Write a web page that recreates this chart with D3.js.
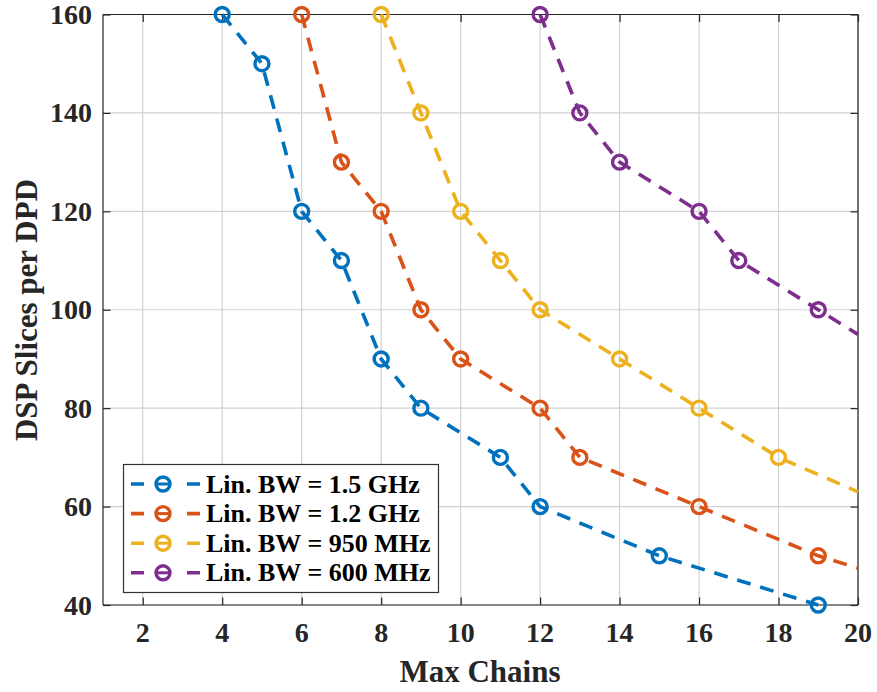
<!DOCTYPE html>
<html>
<head>
<meta charset="utf-8">
<script src="https://cdn.jsdelivr.net/npm/d3@7"></script>
<style>
  html, body { margin: 0; padding: 0; background: #fff; }
  svg { display: block; font-family: "Liberation Serif", "Times New Roman", serif; font-weight: bold; }
</style>
</head>
<body>
<svg id="chart" width="877" height="692"></svg>
<script>
// Series: maximum number of chains vs. DSP slices per DPD
const legendLabels = ["Lin. BW = 1.5 GHz", "Lin. BW = 1.2 GHz", "Lin. BW = 950 MHz", "Lin. BW = 600 MHz"];
const seriesColors = ["#0072BD", "#D95319", "#EDB120", "#7E2F8E"];

const chains15 = [4, 5, 6, 7, 8, 9, 11, 12, 15, 19];
const slices15 = [160, 150, 120, 110, 90, 80, 70, 60, 50, 40];

const chains12 = [6, 7, 8, 9, 10, 12, 13, 16, 19];
const slices12 = [160, 130, 120, 100, 90, 80, 70, 60, 50];

const chains950 = [8, 9, 10, 11, 12, 14, 16, 18];
const slices950 = [160, 140, 120, 110, 100, 90, 80, 70];

const chains600 = [12, 13, 14, 16, 17, 19];
const slices600 = [160, 140, 130, 120, 110, 100];

// Trend continuation of each curve out to the right edge (null = none)
const tailChains = [null, 20, 20, 20];
const tailSlices = [null, 47.5, 63, 95];

const xTicks = [2, 4, 6, 8, 10, 12, 14, 16, 18, 20];
const yTicks = [40, 60, 80, 100, 120, 140, 160];

const allChains = [chains15, chains12, chains950, chains600];
const allSlices = [slices15, slices12, slices950, slices600];

const svg = d3.select("#chart");
const L = 103, R = 858, T = 14.5, B = 605;

const x = d3.scaleLinear().domain([1, 20]).range([L, R]);
const y = d3.scaleLinear().domain([40, 160]).range([B, T]);

const axisColor = "#262626";

// grid
const grid = svg.append("g");
grid.selectAll("line.gx").data(xTicks).join("line")
  .attr("x1", d => x(d)).attr("x2", d => x(d)).attr("y1", T).attr("y2", B)
  .attr("stroke", "#d2d2d2").attr("stroke-width", 1.2);
grid.selectAll("line.gy").data(yTicks).join("line")
  .attr("y1", d => y(d)).attr("y2", d => y(d)).attr("x1", L).attr("x2", R)
  .attr("stroke", "#d2d2d2").attr("stroke-width", 1.2);

// axes with inward ticks on all four sides
const tickLen = 7.5;
const axB = svg.append("g").attr("transform", `translate(0,${B})`)
  .call(d3.axisBottom(x).tickValues(xTicks).tickSize(-tickLen).tickPadding(0).tickFormat(""));
const axT = svg.append("g").attr("transform", `translate(0,${T})`)
  .call(d3.axisTop(x).tickValues(xTicks).tickSize(-tickLen).tickFormat(""));
const axL = svg.append("g").attr("transform", `translate(${L},0)`)
  .call(d3.axisLeft(y).tickValues(yTicks).tickSize(-tickLen).tickFormat(""));
const axR = svg.append("g").attr("transform", `translate(${R},0)`)
  .call(d3.axisRight(y).tickValues(yTicks).tickSize(-tickLen).tickFormat(""));
[axB, axT, axL, axR].forEach(g => {
  g.select(".domain").attr("stroke", axisColor).attr("stroke-width", 1.2);
  g.selectAll(".tick line").attr("stroke", axisColor).attr("stroke-width", 1.2);
});
// remove outer tick stubs so the box is a clean rectangle
[axB, axT].forEach(g => g.select(".domain").attr("d", `M${L},0H${R}`));
[axL, axR].forEach(g => g.select(".domain").attr("d", `M0,${T}V${B}`));

// tick labels
svg.append("g").selectAll("text").data(xTicks).join("text")
  .attr("x", d => x(d)).attr("y", 642)
  .attr("text-anchor", "middle").attr("font-size", 28).attr("fill", axisColor)
  .text(d => d);
svg.append("g").selectAll("text").data(yTicks).join("text")
  .attr("x", 92).attr("y", d => y(d)).attr("dy", "0.34em")
  .attr("text-anchor", "end").attr("font-size", 28).attr("fill", axisColor)
  .text(d => d);

// axis titles
svg.append("text").attr("x", 480).attr("y", 682)
  .attr("text-anchor", "middle").attr("font-size", 31).attr("fill", axisColor)
  .text("Max Chains");
svg.append("text").attr("transform", "translate(37,310) rotate(-90)")
  .attr("text-anchor", "middle").attr("font-size", 31).attr("fill", axisColor)
  .text("DSP Slices per DPD");

// curves
const line = d3.line().x(d => x(d[0])).y(d => y(d[1]));
const dash = "14,10";
allChains.forEach((cx, i) => {
  const pts = cx.map((c, j) => [c, allSlices[i][j]]);
  if (tailChains[i] !== null) pts.push([tailChains[i], tailSlices[i]]);
  svg.append("path").datum(pts)
    .attr("d", line).attr("fill", "none")
    .attr("stroke", seriesColors[i]).attr("stroke-width", 3.6)
    .attr("stroke-dasharray", dash);
});
allChains.forEach((cx, i) => {
  svg.append("g").selectAll("circle").data(cx.map((c, j) => [c, allSlices[i][j]])).join("circle")
    .attr("cx", d => x(d[0])).attr("cy", d => y(d[1])).attr("r", 7)
    .attr("fill", "none").attr("stroke", seriesColors[i]).attr("stroke-width", 3.4);
});

// legend
const lg = svg.append("g");
lg.append("rect").attr("x", 123.5).attr("y", 464.5).attr("width", 315).attr("height", 128)
  .attr("fill", "#fff").attr("stroke", "#333").attr("stroke-width", 1.2);
legendLabels.forEach((lab, i) => {
  const cy = 484 + i * 29.6;
  lg.append("line").attr("x1", 131).attr("x2", 200).attr("y1", cy).attr("y2", cy)
    .attr("stroke", seriesColors[i]).attr("stroke-width", 3.6)
    .attr("stroke-dasharray", "13,43,13");
  lg.append("circle").attr("cx", 163).attr("cy", cy).attr("r", 7)
    .attr("fill", "none").attr("stroke", seriesColors[i]).attr("stroke-width", 3.4);
  lg.append("line").attr("x1", 157).attr("x2", 169).attr("y1", cy).attr("y2", cy)
    .attr("stroke", seriesColors[i]).attr("stroke-width", 3);
  lg.append("text").attr("x", 206).attr("y", cy).attr("dy", "0.33em")
    .attr("font-size", 26).attr("fill", "#000").text(lab);
});
</script>
</body>
</html>
